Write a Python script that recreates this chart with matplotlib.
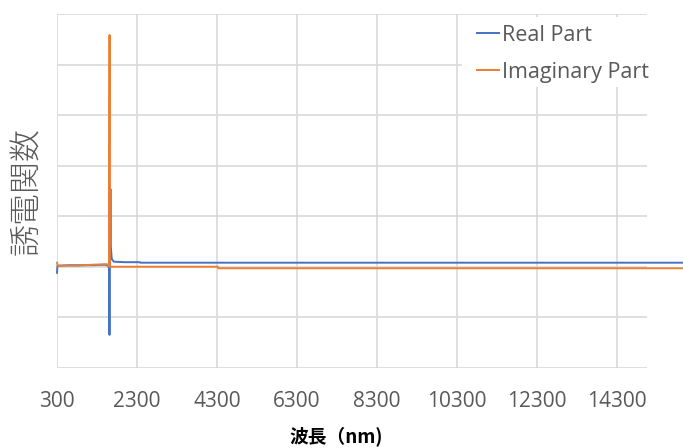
import numpy as np
import matplotlib as mlt
mlt.use("Agg")
import matplotlib.pyplot as plt
from matplotlib.patches import Rectangle

# wavelength (nm) and dielectric function, real / imaginary parts
realX = [300, 310, 600, 1200, 1500, 1580, 1600, 1612, 1635, 1645, 1670, 1720,
         2000, 2370, 2380, 16600]
realY = [-0.12, 0.02, 0.03, 0.03, 0.04, 0.02, -0.03, -1.35, 1.54, 0.40, 0.15,
         0.10, 0.09, 0.09, 0.08, 0.08]

imagX = [300, 320, 800, 1200, 1550, 1600, 1614, 1622, 4320, 4330, 16600]
imagY = [0.08, 0.02, 0.02, 0.04, 0.05, 0.01, 4.59, 0.0, 0.0, -0.03, -0.03]

xTicks = np.arange(300, 14301, 2000)
yTicks = np.arange(-2, 6, 1)

blue = "#4472C4"
orange = "#ED7D31"
gridColor = "#D9D9D9"
textColor = "#595959"

W, H = 683, 448

plt.rcParams['font.family'] = ['Open Sans', 'Noto Sans CJK JP', 'DejaVu Sans']

fig = plt.figure(figsize=(W/100, H/100), dpi=100)
ax = fig.add_axes([57/W, 1 - 367.7/H, (647 - 57)/W, (367.7 - 14.3)/H])

ax.plot(realX, realY, color=blue, linewidth=1.4, label="Real Part", clip_on=False, zorder=3)
ax.plot(imagX, imagY, color=orange, linewidth=1.4, label="Imaginary Part", clip_on=False, zorder=3)

ax.set_xlim(300, 15050)
ax.set_ylim(-2, 5)
ax.set_xticks(xTicks)
ax.set_xticklabels([str(t) for t in xTicks])
ax.set_yticks(yTicks)
ax.set_yticklabels([])
ax.grid(True, color=gridColor, linewidth=1.2)
ax.set_axisbelow(True)
for s in ax.spines.values():
    s.set_visible(False)
ax.tick_params(length=0, labelsize=15, labelcolor=textColor, pad=17)

# axis titles
fig.text(27/W, 1 - 191/H, "誘電関数", family=['Noto Sans CJK JP'], fontsize=23,
         color=textColor, fontweight='light', rotation=90, ha='center', va='center')
fig.text(336/W, 1 - 437/H, "波長（nm)", family=['Noto Sans CJK JP'], fontsize=13.5,
         fontweight='bold', color='black', ha='center', va='center')

# white legend box over the gridlines
fig.patches.append(Rectangle((462/W, 1 - 87/H), (W - 462)/W, 70/H,
                             transform=fig.transFigure, facecolor='white',
                             edgecolor='none', zorder=2))

handles, labels = ax.get_legend_handles_labels()
leg = fig.legend(handles, labels, loc='upper left', bbox_to_anchor=(477/W, 1 - 25/H),
                 fontsize=15.5, frameon=False, handlelength=1.0, handletextpad=0.15,
                 labelspacing=0.74, borderpad=0, borderaxespad=0)
for t in leg.get_texts():
    t.set_color(textColor)
leg.set_zorder(5)

fig.savefig("out.png", dpi=100)
plt.close()
